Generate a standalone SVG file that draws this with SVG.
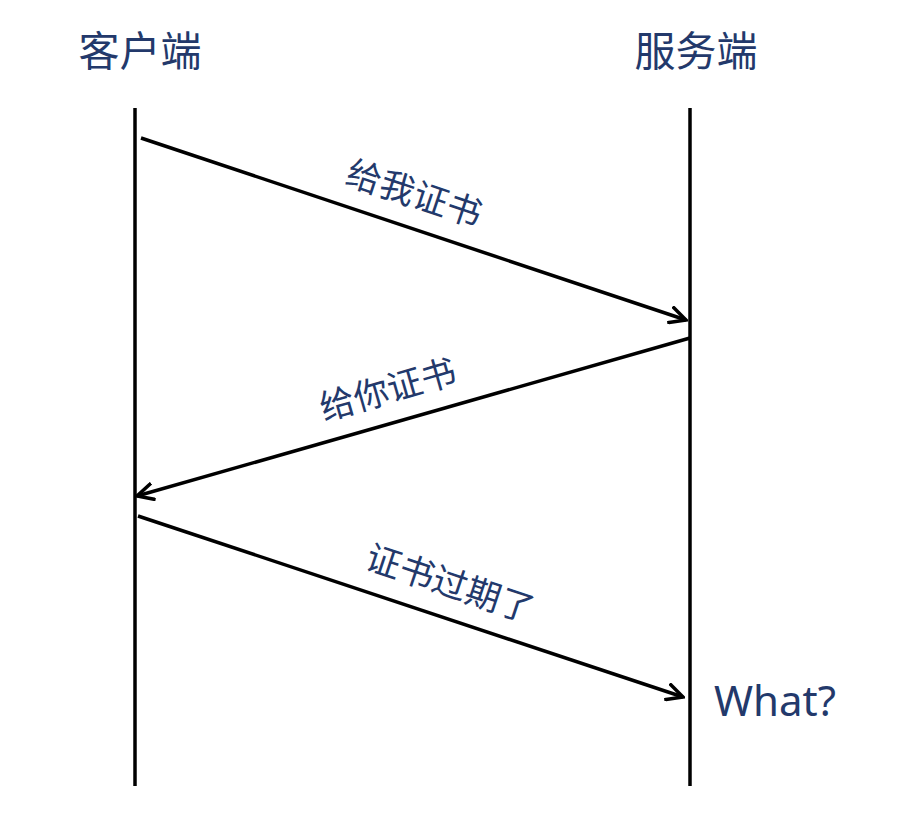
<svg xmlns="http://www.w3.org/2000/svg" width="899" height="817" viewBox="0 0 899 817">
<style>
.lbl{font-family:"Noto Sans CJK SC","Noto Sans",sans-serif;fill:#23396b;}
.hd{font-size:41px;}
.ml{font-size:35px;}
.life{stroke:#000;stroke-width:3.5;}
.msg{stroke:#000;stroke-width:3.5;fill:none;marker-end:url(#arr);}
</style>
<defs>
<marker id="arr" viewBox="0 0 10 10" refX="9" refY="5" markerWidth="5.5" markerHeight="5.5" markerUnits="strokeWidth" orient="auto">
<path d="M1,1 L9,5 L1,9" fill="none" stroke="#000" stroke-width="1.8" stroke-linecap="square"/>
</marker>
</defs>
<rect width="899" height="817" fill="#fff"/>
<g id="client">
<text class="lbl hd" x="140" y="66" text-anchor="middle">客户端</text>
<line class="life" x1="135" y1="108" x2="135" y2="786"/>
</g>
<g id="server">
<text class="lbl hd" x="696" y="66" text-anchor="middle">服务端</text>
<line class="life" x1="690" y1="108" x2="690" y2="786"/>
</g>
<g id="connectors">
<line class="msg" x1="141" y1="138" x2="686" y2="320"/>
<line class="msg" x1="690" y1="338" x2="137" y2="496"/>
<line class="msg" x1="138" y1="516" x2="683" y2="697"/>
</g>
<g id="labels">
<text class="lbl ml" transform="translate(414,194) rotate(18.5)" text-anchor="middle" dy="12">给我证书</text>
<text class="lbl ml" transform="translate(388,390) rotate(-16)" text-anchor="middle" dy="12">给你证书</text>
<text class="lbl ml" transform="translate(450,584) rotate(18.4)" text-anchor="middle" dy="12">证书过期了</text>
</g>
<g id="what">
<text class="lbl" x="714" y="716" style="font-family:'Noto Sans',sans-serif;font-size:42px">What?</text>
</g>
</svg>
